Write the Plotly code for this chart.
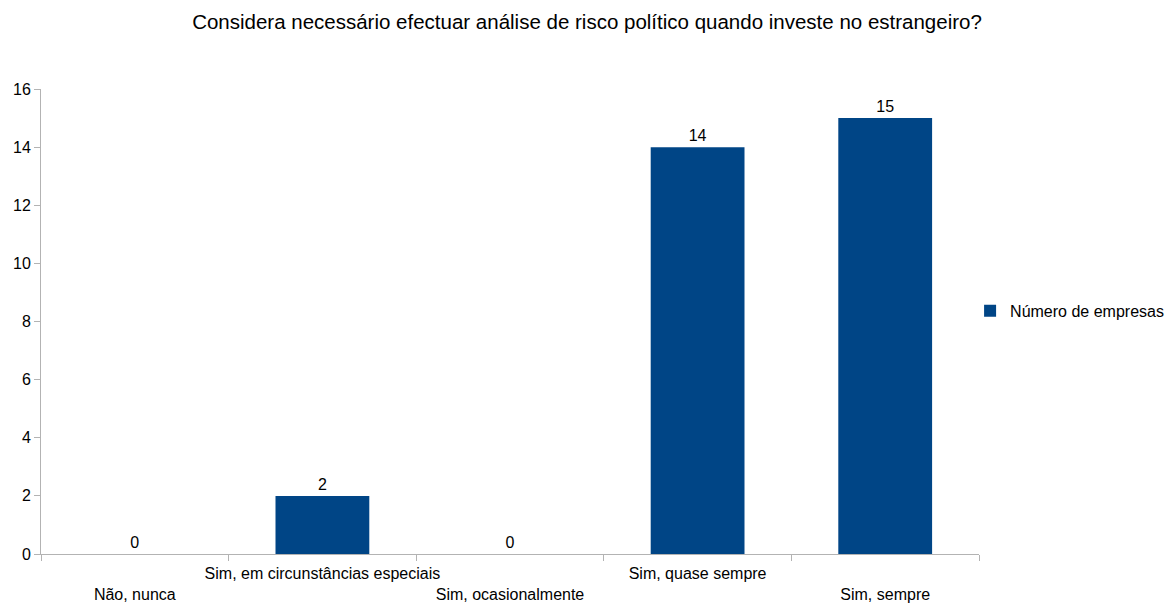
import plotly.graph_objects as go

categories = ["Não, nunca", "Sim, em circunstâncias especiais", "Sim, ocasionalmente",
              "Sim, quase sempre", "Sim, sempre"]
values = [0, 2, 0, 14, 15]
series_name = "Número de empresas"
title = "Considera necessário efectuar análise de risco político quando investe no estrangeiro?"

ticktext = [("<br>" + c) if i % 2 == 0 else c for i, c in enumerate(categories)]

FONT = "Liberation Sans, Arial, sans-serif"

fig = go.Figure()
fig.add_trace(go.Bar(
    x=categories, y=values, name=series_name,
    marker=dict(color="#004586", line=dict(width=0)),
    width=0.5,
    text=[str(v) for v in values], textposition="outside",
    textfont=dict(color="black", size=16, family=FONT),
    cliponaxis=False,
    showlegend=True,
))

fig.update_layout(
    width=1174, height=603,
    paper_bgcolor="white", plot_bgcolor="white",
    font=dict(family=FONT, size=16, color="black"),
    title=dict(text=title, x=579 / 1174, xanchor="center", y=1 - 14 / 603, yanchor="middle",
               font=dict(size=20.5)),
    margin=dict(l=33, r=203, t=81, b=57, autoexpand=False),
    showlegend=True,
    legend=dict(x=0.9905, xanchor="left", y=0.523, yanchor="middle",
                font=dict(size=16), itemwidth=30, bgcolor="rgba(0,0,0,0)"),
    bargap=0.5,
)
fig.update_xaxes(
    type="category", tickmode="array", tickvals=categories, ticktext=ticktext,
    tickson="boundaries", ticks="outside", ticklen=6, tickcolor="#b3b3b3",
    showline=True, linecolor="#b3b3b3", linewidth=1, showgrid=False,
    tickangle=0, tickfont=dict(size=16), automargin=False, ticklabelstandoff=5,
)
fig.update_yaxes(
    range=[0, 16], dtick=2, ticks="outside", ticklen=6, tickcolor="#b3b3b3",
    showline=True, linecolor="#b3b3b3", linewidth=1, showgrid=False,
    zeroline=False, tickfont=dict(size=16), automargin=False,
)

fig.write_html("out.html")
